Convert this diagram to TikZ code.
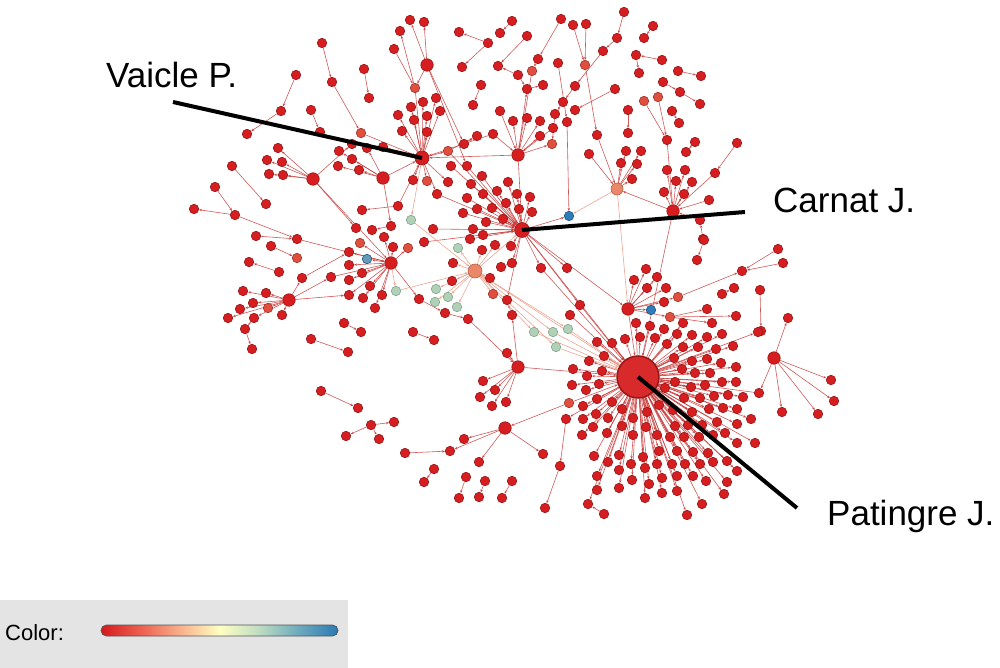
\documentclass[tikz,border=0pt]{standalone}
\usepackage{fontspec}
\setmainfont{Liberation Sans}
\usetikzlibrary{arrows.meta}
\definecolor{ndr}{RGB}{214,30,32}
\definecolor{ndb}{RGB}{150,22,22}
\definecolor{ndo}{RGB}{224,78,62}
\definecolor{ndob}{RGB}{160,50,40}
\definecolor{ndsal}{RGB}{234,135,105}
\definecolor{ndsalb}{RGB}{180,95,70}
\definecolor{ndg}{RGB}{176,208,184}
\definecolor{ndgb}{RGB}{130,165,140}
\definecolor{ndbl}{RGB}{46,124,184}
\definecolor{ndblb}{RGB}{30,85,130}
\definecolor{ndbg}{RGB}{100,155,185}
\definecolor{edc}{RGB}{200,60,60}
\definecolor{edpale}{RGB}{236,165,145}
\definecolor{legbg}{RGB}{228,228,228}
\definecolor{barb}{RGB}{85,85,85}
\pgfdeclarehorizontalshading{cbar}{100bp}{rgb(0bp)=(0.84,0.10,0.11); rgb(25bp)=(0.84,0.10,0.11); rgb(34bp)=(0.93,0.40,0.33); rgb(43bp)=(0.98,0.74,0.58); rgb(50bp)=(1,1,0.76); rgb(58bp)=(0.76,0.87,0.76); rgb(66bp)=(0.45,0.68,0.74); rgb(75bp)=(0.17,0.48,0.71); rgb(100bp)=(0.17,0.48,0.71)}
\pgfdeclarelayer{bg}
\pgfsetlayers{bg,main}
\tikzset{
  nd/.style={circle, draw=ndb, fill=ndr, line width=0.6pt, inner sep=0pt, minimum size=9.5pt},
  hubnd/.style={nd, minimum size=12.5pt},
  olnd/.style={nd, fill=ndo, draw=ndob},
  salnd/.style={nd, fill=ndsal, draw=ndsalb, minimum size=12pt},
  grnd/.style={nd, fill=ndg, draw=ndgb},
  blnd/.style={nd, fill=ndbl, draw=ndblb},
  bgnd/.style={nd, fill=ndbg, draw=ndblb},
  ed/.style={draw=edc, draw opacity=0.85, line width=0.6pt, -{Stealth[length=3pt,width=2.4pt]}},
  edp/.style={ed, draw=edpale, draw opacity=1},
  lead/.style={line width=4pt, black},
  lab/.style={font=\fontsize{35}{40}\selectfont, anchor=base west, inner sep=0pt},
}
\begin{document}
\begin{tikzpicture}[x=1pt,y=-1pt]
\useasboundingbox (0,0) rectangle (1000,668);
% ---------- hubs
\node[nd, minimum size=42pt, line width=1.5pt, fill=ndr!95!white] (P) at (638,377) {};
\node[nd, minimum size=15pt] (C) at (522,230) {};
\node[nd, minimum size=14pt] (V) at (422,158) {};
\foreach \n/\x/\y in {T1/427/65, L1/313/179, H2/391/263, H3/289/300, H4/505/428, L2/518/367, H5/518/155, H6/628/309, H7/673/211, H8/774/358, m7/383/178}
  \node[hubnd] (\n) at (\x,\y) {};
\node[salnd, minimum size=14pt] (O1) at (475,271) {};
\node[salnd] (O2) at (617,189) {};
% ---------- ordinary red nodes
\foreach \n/\x/\y in {
 t1/410/20, t2/424/22, t3/400/31, t4/459/32, t5/488/43, t6/462/67, t7/498/66, t8/322/43, t9/296/75, t10/281/111, t11/247/134, t12/332/82, t13/364/69, t14/369/98, t15/394/49, t16/481/85, t17/473/105, t18/500/111,
 v1/398/115, v2/411/107, v3/423/102, v4/436/98, v5/440/111, v6/427/116, v7/414/120, v8/402/131, v9/427/132, v12/464/144, v14/413/180, v15/448/182,
 s1/311/110, s2/320/132, s3/477/136, s4/493/134,
 l1/278/148, l2/267/160, l3/282/162, l4/269/174, l5/283/175, l6/232/166, l7/266/204, l8/215/187, l9/235/215, l10/194/209,
 m1/339/151, m2/352/159, m3/338/166, m4/359/170, m5/367/148, m6/383/147, m8/352/144,
 m9/451/166, m10/467/166, m11/482/176, m12/437/194, m13/471/184, m14/483/194, m15/467/198, m16/463/213, m17/477/209, m18/492/208,
 m19/398/206, m20/362/210, m21/356/228, m22/372/230, m23/391/226, m24/384/237, m25/424/242, m26/433/229, m27/297/239, m28/256/236, m29/271/246, m30/473/229, m31/470/239, m32/486/222,
 m33/249/262, m34/279/272, m35/302/278, m36/243/291, m37/266/293, m38/253/303, m39/240/309, m40/228/318, m41/254/318, m42/282/315, m43/245/329, m44/252/349, m45/331/277,
 m46/349/252, m47/349/265, m48/362/273, m49/349/280, m50/370/286, m51/349/295, m52/363/298, m53/382/295, m54/375/308, m55/393/247, m56/419/299,
 m57/453/263, m58/452/281, m59/445/313, m60/468/319, m61/490/278, m62/482/250, m63/495/245, m64/483/235,
 b1/344/323, b2/361/332, b3/413/332, b4/434/340, b5/311/339, b6/348/352, b7/321/391, b8/358/408, b9/371/425, b10/394/422, b11/346/436, b12/379/439, b13/405/453, b14/450/451, b15/464/439, b16/479/462, b17/434/469, b18/424/482, b19/466/477, b20/459/498, b21/485/481, b22/479/497, b23/512/481, b24/502/498, b25/543/454, b26/566/419, b27/560/466, b28/545/508,
 c1/483/381, c2/495/390, c3/480/397, c4/492/406, c5/506/402, c6/507/353,
 k1/508/182, k2/497/191, k3/517/194, k4/530/197, k5/506/203, k6/519/209, k7/532/212, k8/503/219, k10/511/246, k11/512/263, k12/501/267, k14/507/300, k15/512/315, k16/541/268, k17/567/268, k18/580/305, k19/570/315,
 h1/513/121, h2/527/118, h3/540/121, h4/540/136, h5/527/89, h6/543/85, h7/518/75, h8/500/33, h9/512/21, h10/527/36, h12/538/59, h13/558/63, h14/561/19, h15/573/25, h16/586/24, h18/617/38, h19/603/51, h20/624/12, h21/575/86, h22/563/102, h23/575/110, h24/555/114, h25/567/122, h26/553/128, h27/615/89, h28/597/135, h29/589/154,
 o1/626/151, o2/641/151, o3/621/163, o4/637/164, o5/632/179, o6/628/110, o7/628/133,
 r1/653/26, r2/644/38, r3/636/55, r4/662/60, r5/639/73, r6/678/71, r7/701/76, r8/663/82, r9/680/92, r10/700/104, r11/672/111, r12/679/123, r13/667/140, r14/695/142, r15/686/152, r16/737/143, r17/715/173, r18/709/200, r19/700/220, r20/703/239, r21/667/170, r22/676/181, r23/685/170, r24/692/182, r25/664/192, r26/684/194,
 q1/634/280, q2/646/269, q3/657/277, q4/647/288, q5/666/288, q6/664/302, q7/707/309, q8/712/323, q9/736/316, q10/704/240, q11/697/260, q12/742/271, q13/778/249, q14/783/263, q15/722/294, q16/734/288, q17/760/290, q18/761/331, q19/788/318,
 w1/831/380, w2/834/401, w3/818/414, w4/782/412, w5/759/393,
 x1/588/504, x2/604/514, x3/687/515, x4/702/504, x5/724/494}
  \node[nd] (\n) at (\x,\y) {};
% ---------- lighter red nodes
\foreach \n/\x/\y in {v10/415/88, v11/448/151, v13/427/181, m0/361/133, n1/360/243, n2/297/258, n3/268/308, n4/408/248, n5/493/294, n6/532/71, n7/552/144, n8/644/101, n9/658/97, n10/678/297, n11/670/317, n12/569/403, n13/585/65}
  \node[olnd] (\n) at (\x,\y) {};
% ---------- green and blue nodes
\foreach \n/\x/\y in {g1/411/220, g2/458/248, g3/396/291, g4/436/289, g5/448/297, g6/435/302, g7/457/307, g8/534/332, g9/553/332, g10/568/329, g11/556/347}
  \node[grnd] (\n) at (\x,\y) {};
\node[blnd] (B1) at (569,216) {};
\node[blnd] (B2) at (651,310) {};
\node[bgnd] (B3) at (367,259) {};
% ---------- leaves of the big hub
\def\pleaves{636/323, 650/326, 664/329, 683/323, 625/339, 640/337, 655/338, 677/334, 692/335, 707/337, 722/334, 733/346, 758/332, 597/342, 612/343, 604/356, 589/361, 667/344, 683/347, 698/347, 716/349, 573/369, 587/376, 602/371, 674/358, 692/361, 707/359, 721/363, 736/367, 572/385, 586/390, 599/384, 675/382, 682/369, 695/373, 710/373, 722/382, 736/382, 583/406, 597/399, 612/402, 665/388, 684/398, 691/387, 700/398, 705/385, 714/396, 728/395, 743/397, 583/419, 596/414, 608/418, 622/409, 633/418, 647/412, 659/405, 673/410, 692/412, 709/409, 723/408, 737/409, 751/419, 582/435, 593/427, 607/433, 622/426, 633/435, 646/427, 657/435, 670/437, 675/426, 688/425, 684/437, 702/425, 699/437, 717/422, 713/435, 725/433, 737/424, 737/443, 755/443, 594/456, 608/462, 619/455, 631/464, 643/457, 645/468, 657/464, 659/451, 672/464, 677/451, 685/464, 693/452, 700/464, 708/453, 713/462, 727/461, 737/471, 597/476, 619/470, 632/480, 649/484, 662/478, 677/476, 693/476, 706/481, 727/482, 597/490, 619/488, 645/498, 662/493, 677/491}
\foreach \x/\y [count=\i] in \pleaves
  \node[nd] (p\i) at (\x,\y) {};
% ---------- connectors
\begin{pgfonlayer}{bg}
\foreach \x/\y [count=\i] in \pleaves
  \draw[ed] (P) -- (p\i);
\foreach \a/\b in {
 T1/t1, T1/t2, v10/t3, t15/v10, T1/v10, v10/V, T1/v12, t5/t4, t5/t6, h7/t7, t16/t17, t18/H5,
 t8/t12, t12/m0, m0/V, t9/t10, t10/t11, t13/t14, s1/s2,
 V/v1, V/v2, V/v3, V/v4, V/v5, V/v6, V/v7, V/v8, V/v9, V/v11, V/v13, V/v14, V/v15, V/m6, v12/s3, v11/s3, s4/H5, s4/V, H5/V, v11/C, T1/m10,
 L1/l1, L1/l2, L1/l3, L1/l4, L1/l5, L1/m8, L1/m21, l6/l7, l8/l9, l9/l10, l9/m27, m28/m27, m27/H2, m29/n2, L1/H2,
 m7/m1, m7/m2, m7/m3, m7/m4, m7/m5, m7/V, m7/m23, m8/V,
 m9/C, m10/C, m11/C, m12/C, m13/C, m14/C, m15/C, m16/C, m17/C, m18/C, V/m12,
 m19/m20, m19/V, m23/m22, m25/C, m26/C, m30/C, m31/C, m32/C, m64/C,
 H3/m36, H3/m37, H3/m38, H3/m39, H3/m40, H3/m41, H3/m42, H3/n3, H3/m35, m41/m43, m43/m44,
 m34/m33, m35/m46, H3/m45, m45/H2, H3/m51,
 H2/m46, H2/B3, H2/m47, H2/m48, H2/m49, H2/m50, H2/m51, H2/m52, H2/m53, H2/m54, H2/n1, H2/m24, H2/m55, H2/n4, H2/m56,
 m56/m59, m59/m60, m60/L2,
 b1/b2, b3/b4, b5/b6, b7/b8, b9/b10, b9/b11, b9/b12, b13/b14, H4/b14, H4/b15, H4/b16, H4/b25, n12/H4, b17/b18, b19/b20, b21/b22, b23/b24, b26/b27, b27/b28, P/b26, n12/P,
 L2/c1, L2/c2, L2/c3, L2/c4, L2/c5, L2/c6, L2/P, L2/k15, k15/k14, C/k14,
 C/k1, C/k2, C/k3, C/k4, C/k5, C/k6, C/k7, C/k8, C/k10, C/k11, k11/k12,
 C/k16, C/k17, C/B1, C/P, C/k18, k18/P, k19/P, k16/P, H5/C, C/H6,
 H5/h1, H5/h2, H5/h3, H5/h4, H5/n7, H5/h5, h5/h6, h7/h5, h9/h8, h10/t7, h14/h12, h12/n6, n6/H5,
 h15/n13, h16/n13, n13/h28, h20/h18, h18/h19, h19/h21, h21/h22, h22/h24, h13/h25, h25/B1, h27/h23, h24/n7, h26/H5,
 h28/O2, h29/O2,
 O2/o1, O2/o2, O2/o3, O2/o4, O2/o5, H7/O2, o6/o7,
 r1/r2, r4/r3, r3/r5, r6/r7, r8/r9, r9/r10, n8/r13, n9/r13, r13/H7, r11/r12, r14/r15, r16/r17, r17/H7, r18/H7, r19/H7, r20/r19,
 H7/r21, H7/r22, H7/r23, H7/r24, H7/r25, H7/r26, H7/P, q10/q11,
 H6/q1, H6/q2, H6/q3, H6/q4, H6/q5, H6/q6, H6/B2, H6/n10, H6/n11, H6/P, n10/q12, q13/q12, q14/q12, n11/q7, n11/q8, n11/q9, q15/q16, q17/q18, H8/q19,
 H8/w1, H8/w2, H8/w3, H8/w4, H8/w5, w5/P,
 x2/x1, P/x1, P/x3, P/x4, P/x5}
  \draw[ed] (\a) -- (\b);
\foreach \a/\b in {
 O1/g2, O1/g4, O1/g5, O1/g6, O1/g7, O1/m57, O1/m58, O1/m61, O1/n5, O1/m62, O1/m63, O1/C, g3/O1, H2/g3,
 O1/g8, O1/g9, O1/g10, O1/g11, g8/P, g9/P, g10/P, g11/P, V/g1, g1/O1, O2/B1, O2/H6, O1/P}
  \draw[edp] (\a) -- (\b);
\end{pgfonlayer}
% ---------- leader lines and labels
\coordinate (va) at (173,102);
\coordinate (ca) at (745,212);
\coordinate (pa) at (797,508);
\draw[lead] (va) -- (V.center);
\draw[lead] (C.center) -- (ca);
\draw[lead] (P.center) -- (pa);
\node[lab] (lv) at (106,88) {Vaicle P.};
\node[lab] (lc) at (773,213) {Carnat J.};
\node[lab] (lp) at (827,525) {Patingre J.};
% ---------- colour legend
\fill[legbg] (0,600) rectangle (348,668);
\node[anchor=base west, inner sep=0pt, font=\fontsize{22}{26}\selectfont] (ct) at (5,640) {Color:};
\path[shading=cbar, draw=barb, line width=0.8pt, rounded corners=5.5pt] (101,625) rectangle (338,636);
\end{tikzpicture}
\end{document}
